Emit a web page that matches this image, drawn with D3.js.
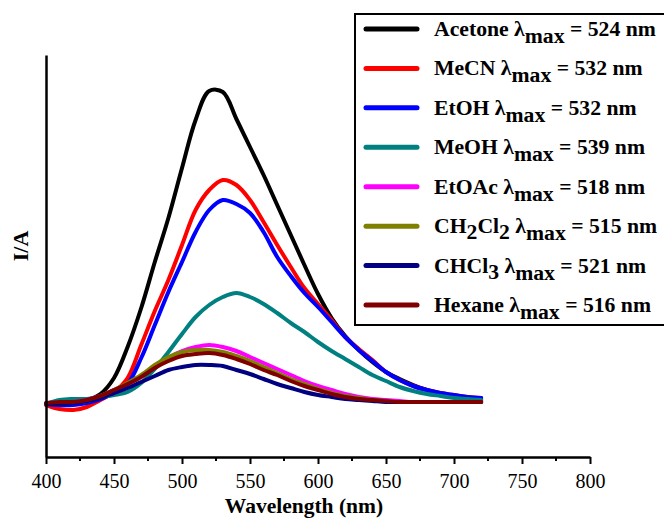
<!DOCTYPE html>
<html>
<head>
<meta charset="utf-8">
<script src="https://cdn.jsdelivr.net/npm/d3@7"></script>
<style>
  body { margin: 0; background: #fff; }
</style>
</head>
<body>
<div id="chart"></div>
<script>
// wavelength grid (nm) shared by every spectrum
const wavelengths = d3.range(400, 721, 10);

// emission intensity (a.u.)
const acetone = [53, 53, 54, 57, 63, 79, 110, 149, 195, 239, 289, 337, 366, 365, 338, 310, 282, 252, 222, 192, 163, 139, 121, 107, 95, 85, 78, 72, 67, 63, 60, 58, 57];
const mecn = [52, 48, 47, 50, 57, 65, 79, 112, 146, 177, 212, 247, 267, 277, 272, 257, 235, 212, 190, 169, 153, 137, 120, 108, 97, 85, 77, 71, 67, 64, 62, 60, 59];
const etoh = [53, 52, 52, 54, 58, 64, 73, 99, 132, 165, 195, 225, 247, 257, 253, 244, 225, 200, 181, 164, 150, 135, 120, 107, 96, 85, 77, 71, 67, 64, 62, 60, 59];
const meoh = [53, 57, 58, 58, 60, 62, 65, 74, 88, 105, 123, 140, 152, 160, 164, 160, 153, 144, 134, 125, 115, 106, 98, 90, 82, 76, 70, 66, 63, 61, 59, 58, 57];
const etoac = [53, 54, 55, 57, 61, 67, 73, 81, 90, 99, 106, 110, 112, 110, 106, 100, 94, 88, 82, 76, 71, 67, 63, 60, 58, 57, 56, 55, 55, 55, 55, 55, 55];
const ch2cl2 = [53, 54, 55, 56, 61, 67, 74, 82, 92, 100, 105, 107, 107, 105, 101, 96, 90, 84, 78, 73, 68, 64, 61, 59, 57, 56, 55, 55, 55, 55, 55, 55, 55];
const chcl3 = [53, 53, 54, 56, 59, 64, 69, 75, 81, 87, 90, 92, 92, 91, 87, 83, 78, 73, 69, 65, 62, 60, 58, 57, 56, 55, 55, 55, 55, 55, 55, 55, 55];
const hexane = [54, 55, 55, 57, 61, 67, 73, 80, 89, 96, 101, 103, 104, 102, 98, 93, 87, 82, 76, 71, 67, 63, 60, 58, 57, 56, 55, 55, 55, 55, 55, 55, 55];

const solvents = ['Acetone', 'MeCN', 'EtOH', 'MeOH', 'EtOAc', 'CH2Cl2', 'CHCl3', 'Hexane'];
const lambdaMax = [524, 532, 532, 539, 518, 515, 521, 516];
const colors = ['#000000', '#ff0000', '#0000ff', '#008080', '#ff00ff', '#808000', '#000080', '#800000'];
const xTicks = [400, 450, 500, 550, 600, 650, 700, 750, 800];

const series = [acetone, mecn, etoh, meoh, etoac, ch2cl2, chcl3, hexane];

const serif = '"Liberation Serif", "Times New Roman", Times, serif';
const width = 664;
const height = 522;

const svg = d3.select('#chart').append('svg')
    .attr('width', width)
    .attr('height', height)
    .attr('font-family', serif);

const x = d3.scaleLinear().domain([400, 800]).range([46, 590]);
const y = d3.scaleLinear().domain([0, 402]).range([457, 55]);

// spectra
const line = d3.line()
    .x(function(d, i) { return x(wavelengths[i]); })
    .y(function(d) { return y(d); })
    .curve(d3.curveCatmullRom);

svg.append('g')
  .selectAll('path')
  .data(series)
  .join('path')
    .attr('fill', 'none')
    .attr('stroke', function(d, i) { return colors[i]; })
    .attr('stroke-width', 4)
    .attr('stroke-linejoin', 'round')
    .attr('stroke-linecap', 'round')
    .attr('d', line);

// x axis, major and minor ticks
const xAxis = svg.append('g')
    .attr('transform', 'translate(0,' + y(0) + ')')
    .call(d3.axisBottom(x).tickValues(xTicks).tickSize(7).tickSizeOuter(0).tickPadding(10))
    .attr('font-family', serif)
    .attr('font-size', 20);
xAxis.select('.domain').attr('stroke-width', 2.5);
xAxis.selectAll('.tick line').attr('stroke-width', 2);

svg.append('g')
    .attr('transform', 'translate(0,' + y(0) + ')')
  .selectAll('line')
  .data(d3.range(425, 800, 50))
  .join('line')
    .attr('x1', function(d) { return x(d); })
    .attr('x2', function(d) { return x(d); })
    .attr('y1', 0)
    .attr('y2', 4)
    .attr('stroke', '#000')
    .attr('stroke-width', 2);

// y axis: bare line
const yAxis = svg.append('g')
    .attr('transform', 'translate(' + x(400) + ',0)')
    .call(d3.axisLeft(y).ticks(0).tickSizeOuter(0));
yAxis.select('.domain').attr('stroke-width', 2.5);

svg.append('text')
    .attr('x', 304)
    .attr('y', 513)
    .attr('text-anchor', 'middle')
    .attr('font-size', 21.5)
    .attr('font-weight', 'bold')
    .text('Wavelength (nm)');

svg.append('text')
    .attr('transform', 'translate(28,246) rotate(-90)')
    .attr('text-anchor', 'middle')
    .attr('font-size', 22)
    .attr('font-weight', 'bold')
    .text('I/A');

// legend
const legend = svg.append('g');
legend.append('rect')
    .attr('x', 355)
    .attr('y', 14)
    .attr('width', 330)
    .attr('height', 311)
    .attr('fill', '#fff')
    .attr('stroke', '#000')
    .attr('stroke-width', 2);

const rowY = d3.scalePoint().domain(solvents).range([29, 305]);

const item = legend.selectAll('g.item')
  .data(solvents)
  .join('g')
    .attr('class', 'item')
    .attr('transform', function(d) { return 'translate(0,' + rowY(d) + ')'; });

item.append('line')
    .attr('x1', 366)
    .attr('x2', 417)
    .attr('stroke', function(d, i) { return colors[i]; })
    .attr('stroke-width', 5)
    .attr('stroke-linecap', 'round');

// digits in a formula become subscripts
item.append('text')
    .attr('x', 434)
    .attr('y', 7)
    .attr('font-size', 21.7)
    .attr('font-weight', 'bold')
    .each(function(d, i) {
      const t = d3.select(this);
      const parts = d.match(/\d+|\D+/g);
      let down = false;
      parts.forEach(function(p) {
        const sub = /\d/.test(p);
        const ts = t.append('tspan').text(p);
        if (sub && !down) { ts.attr('dy', 6); down = true; }
        else if (!sub && down) { ts.attr('dy', -6); down = false; }
      });
      t.append('tspan').attr('dy', down ? -6 : 0).text(' \u03bb');
      t.append('tspan').attr('dy', 7).text('max');
      t.append('tspan').attr('dy', -7).text(' = ' + lambdaMax[i] + ' nm');
    });
</script>
</body>
</html>
